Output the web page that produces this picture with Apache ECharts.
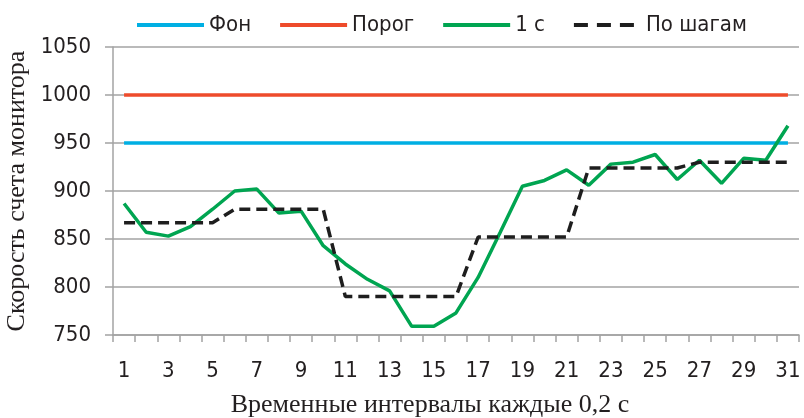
<!DOCTYPE html>
<html>
<head>
<meta charset="utf-8">
<script src="https://cdn.jsdelivr.net/npm/echarts@6/dist/echarts.min.js"></script>
<style>
  html, body { margin: 0; padding: 0; background: #fff; }
  #chart { width: 804px; height: 418px; }
</style>
</head>
<body>
<div id="chart"></div>
<script>
// x categories (time intervals of 0.2 s)
const categories = ['1', '2', '3', '4', '5', '6', '7', '8', '9', '10', '11', '12', '13', '14', '15', '16',
  '17', '18', '19', '20', '21', '22', '23', '24', '25', '26', '27', '28', '29', '30', '31']
// background level
const fon = [950, 950, 950, 950, 950, 950, 950, 950, 950, 950, 950, 950, 950, 950, 950, 950,
  950, 950, 950, 950, 950, 950, 950, 950, 950, 950, 950, 950, 950, 950, 950]
// threshold
const porog = [1000, 1000, 1000, 1000, 1000, 1000, 1000, 1000, 1000, 1000, 1000, 1000, 1000, 1000, 1000, 1000,
  1000, 1000, 1000, 1000, 1000, 1000, 1000, 1000, 1000, 1000, 1000, 1000, 1000, 1000, 1000]
// 1 s readings
const oneSec = [887, 857, 853, 863, 881, 900, 902, 877, 879, 843, 824, 808, 796, 759, 759, 773,
  810, 857, 905, 911, 922, 906, 928, 930, 938, 912, 932, 908, 934, 932, 968]
// stepwise readings
const steps = [867, 867, 867, 867, 867, 881, 881, 881, 881, 881, 790, 790, 790, 790, 790, 790,
  852, 852, 852, 852, 852, 924, 924, 924, 924, 924, 930, 930, 930, 930, 930]

const sansFont = "'DejaVu Sans Condensed', 'DejaVu Sans', sans-serif"
const serifFont = "'Liberation Serif', 'DejaVu Serif', serif"
const axisGrey = '#a3a3a3'

const chart = echarts.init(document.getElementById('chart'))
const option = {
  animation: false,
  legend: {
    left: 130,
    top: 9,
    itemWidth: 67,
    itemHeight: 14,
    itemGap: 27,
    itemStyle: { opacity: 0 },
    lineStyle: { width: 4 },
    textStyle: { fontFamily: sansFont, fontSize: 22, color: '#231f20' },
    data: [
      'Фон',
      'Порог',
      '1 с',
      { name: 'По шагам', lineStyle: { type: [14, 9], width: 4 } }
    ]
  },
  grid: { left: 113, right: 5, top: 47, bottom: 83, outerBoundsMode: 'none' },
  xAxis: {
    type: 'category',
    data: categories,
    boundaryGap: true,
    name: 'Временные интервалы каждые 0,2 с',
    nameLocation: 'middle',
    nameGap: 57,
    nameTextStyle: { fontFamily: serifFont, fontSize: 26, color: '#231f20', padding: [0, 52, 0, 0] },
    axisLine: { lineStyle: { color: axisGrey, width: 1.5 } },
    axisTick: { show: true, interval: 0, length: 7, lineStyle: { color: axisGrey, width: 1.5 } },
    axisLabel: { interval: 1, margin: 25, fontFamily: sansFont, fontSize: 22, color: '#231f20' }
  },
  yAxis: {
    type: 'value',
    min: 750,
    max: 1050,
    interval: 50,
    name: 'Скорость счета монитора',
    nameLocation: 'middle',
    nameGap: 76,
    nameTextStyle: { fontFamily: serifFont, fontSize: 26, color: '#231f20' },
    axisLine: { show: true, lineStyle: { color: axisGrey, width: 1.5 } },
    axisTick: { show: true, length: 8, lineStyle: { color: axisGrey, width: 1.5 } },
    axisLabel: {
      margin: 22,
      fontFamily: sansFont,
      fontSize: 22,
      color: '#231f20',
      formatter: (v) => String(v)
    },
    splitLine: { show: true, lineStyle: { color: axisGrey, width: 1.5 } }
  },
  series: [
    {
      name: 'Фон',
      type: 'line',
      data: fon,
      symbol: 'none',
      itemStyle: { color: '#00afe3' },
      lineStyle: { color: '#00afe3', width: 3.5 }
    },
    {
      name: 'Порог',
      type: 'line',
      data: porog,
      symbol: 'none',
      itemStyle: { color: '#ee4b2b' },
      lineStyle: { color: '#ee4b2b', width: 3.5 }
    },
    {
      name: '1 с',
      type: 'line',
      data: oneSec,
      symbol: 'none',
      itemStyle: { color: '#00a551' },
      lineStyle: { color: '#00a551', width: 3.5 }
    },
    {
      name: 'По шагам',
      type: 'line',
      data: steps,
      symbol: 'none',
      itemStyle: { color: '#1e1e1e' },
      lineStyle: { color: '#1e1e1e', width: 3.5, type: [11, 6] }
    }
  ]
}
chart.setOption(option, true)
</script>
</body>
</html>
